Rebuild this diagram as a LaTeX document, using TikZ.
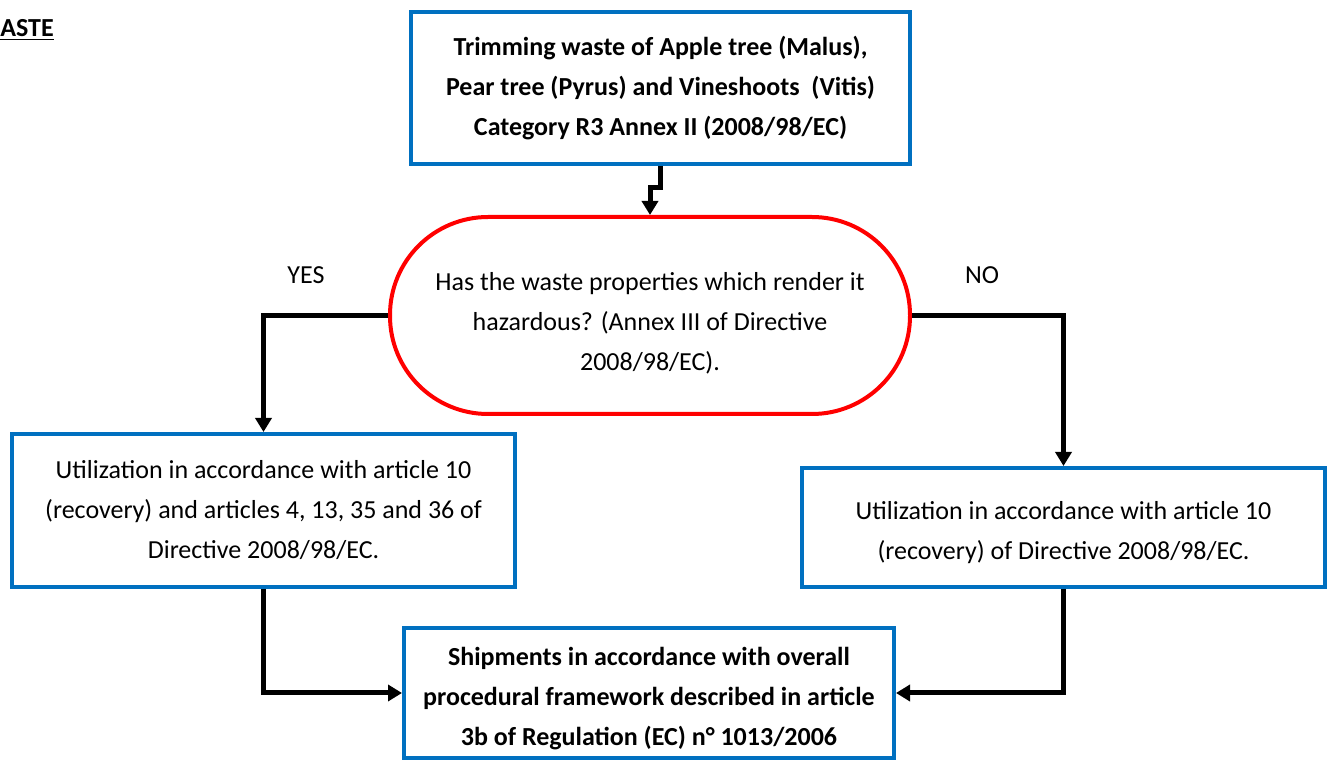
\documentclass[tikz,border=0pt]{standalone}
\usepackage{fontspec}
\setmainfont{Carlito}
\usetikzlibrary{arrows.meta}
\definecolor{boxblue}{HTML}{0070C0}
\definecolor{hazred}{HTML}{FF0000}

\begin{document}
\begin{tikzpicture}[x=0.5pt,y=-0.5pt,
  box/.style={draw=boxblue, line width=2pt, align=center, inner sep=0pt,
    font=\fontsize{13}{20}\selectfont},
  flow/.style={line width=2.5pt, -{Triangle[length=7pt,width=8pt]}}]
\useasboundingbox (0,0) rectangle (1330,764);

\node[anchor=west, inner sep=0pt, font=\fontsize{13}{15}\selectfont\bfseries] (title) at (0,30) {\underline{ASTE}};

\node[box, minimum width=249.5pt, minimum height=76pt, font=\fontsize{13}{20}\selectfont\bfseries] (waste) at (660.5,88)
  {Trimming waste of Apple tree (Malus),\\ Pear tree (Pyrus) and Vineshoots\ \ (Vitis)\\ Category R3 Annex II (2008/98/EC)};

\node[box, draw=hazred, rounded corners=49pt, minimum width=260pt, minimum height=98.5pt] (haz) at (650,315.5)
  {\rule{0pt}{17pt}Has the waste properties which render it\\ hazardous? (Annex III of Directive\\ 2008/98/EC).};

\node[font=\fontsize{13}{15}\selectfont] (yes) at (306,275) {YES};
\node[font=\fontsize{13}{15}\selectfont] (no) at (982,275) {NO};

\node[box, minimum width=251.5pt, minimum height=76.5pt] (util) at (263.5,510.5)
  {Utilization in accordance with article 10\\ (recovery) and articles 4, 13, 35 and 36 of\\ Directive 2008/98/EC.};

\node[box, minimum width=261.5pt, minimum height=59.5pt] (recov) at (1063.5,527.5)
  {\rule{0pt}{14pt}Utilization in accordance with article 10\\ (recovery) of Directive 2008/98/EC.};

\node[box, minimum width=245pt, minimum height=65pt, font=\fontsize{13}{20}\selectfont\bfseries] (ship) at (649,693)
  {\rule{0pt}{15pt}Shipments in accordance with overall\\ procedural framework described in article\\ 3b of Regulation (EC) n° 1013/2006};

% connectors
\draw[flow] (waste.south) -- ++(0,22) -| (haz.north);
\draw[flow] (haz.west) -| (util.north);
\draw[flow] (haz.east) -| (recov.north);
\draw[flow] (util.south) |- (ship.west);
\draw[flow] (recov.south) |- (ship.east);

\end{tikzpicture}
\end{document}
